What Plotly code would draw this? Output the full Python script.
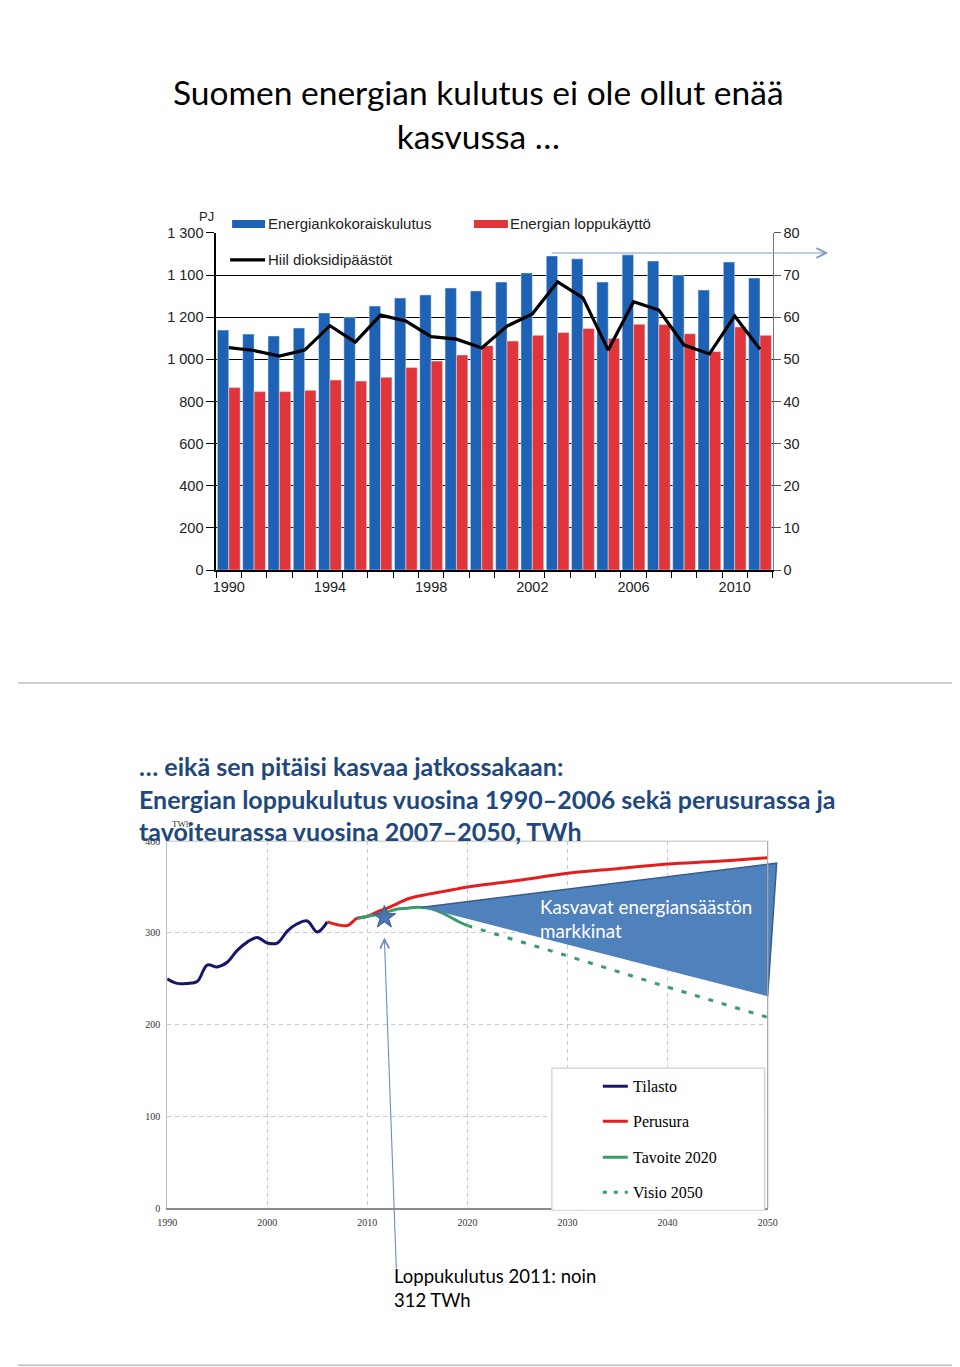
import plotly.graph_objects as go

# ---------------- data: top chart (PJ / Mt CO2) ----------------
years_top = list(range(1990, 2012))
primary_energy = [1139, 1120, 1111, 1149, 1220, 1201, 1253, 1291, 1306, 1339, 1325,
                  1367, 1410, 1491, 1477, 1367, 1496, 1467, 1401, 1329, 1462, 1386]
final_energy = [866, 847, 847, 853, 902, 897, 915, 961, 992, 1021, 1065,
                1087, 1114, 1127, 1147, 1100, 1167, 1165, 1122, 1037, 1154, 1114]
co2 = [52.8, 52.1, 50.8, 52.2, 58.0, 54.1, 60.5, 59.1, 55.4, 54.8, 52.7,
       57.9, 60.8, 68.4, 64.6, 52.2, 63.7, 61.7, 53.4, 51.3, 60.3, 52.4]
left_tickvals = [0, 200, 400, 600, 800, 1000, 1200, 1400, 1600]
left_ticktext = ["0", "200", "400", "600", "800", "1 000", "1 200", "1 100", "1 300"]
right_tickvals = [0, 10, 20, 30, 40, 50, 60, 70, 80]
top_xtickvals = [1990, 1994, 1998, 2002, 2006, 2010]

# ---------------- data: bottom chart (TWh) ----------------
stat_years = list(range(1990, 2007))
stat_values = [250, 245, 245, 247, 265, 263, 268, 281, 290, 295, 289, 289, 302, 310, 313, 301, 312]
perus_years = [2006, 2007, 2008, 2009, 2010, 2011, 2012, 2013, 2014, 2015, 2016, 2017,
               2018, 2019, 2020, 2025, 2030, 2035, 2040, 2045, 2050]
perus_values = [312, 309, 308, 316, 318, 323, 327, 332, 337, 340, 342, 344,
                346, 348, 350, 357, 365, 370, 375, 378, 382]
tavoite_years = [2009, 2010, 2011, 2012, 2013, 2014, 2015, 2016, 2017, 2018, 2019, 2020]
tavoite_values = [316, 318, 320, 323, 326, 327, 328, 327, 324, 319, 313, 308]
visio_years = [2020, 2030, 2040, 2050]
visio_values = [308, 275, 241, 208]
tri_years = [2015.5, 2050.9, 2050.0]
tri_values = [328, 376, 231]
star_year = [2011.7]
star_value = [317]

# ---------------- layout helpers ----------------
# positions are given in picture pixels; the shown page is offset and slightly scaled
W, H = 960, 1367
OX, SX = 17.7, 0.98
OY, SY = 16.1, 0.988
def px(x):
    return ((x - OX) / SX) / W
def py(y):
    return 1 - ((y - OY) / SY) / H

BLUE = "#1D62B5"
RED = "#E0353A"
NAVY = "#16166A"
PRED = "#E41E1E"
GREEN = "#3A9A6A"
SANS = "Liberation Sans"
SERIF = "Liberation Serif"
CAL = "Lato"

fig = go.Figure()

# top chart
fig.add_trace(go.Bar(x=years_top, y=primary_energy, marker_color=BLUE, xaxis="x", yaxis="y",
                     name="Energiankokoraiskulutus"))
fig.add_trace(go.Bar(x=years_top, y=final_energy, marker_color=RED, xaxis="x", yaxis="y",
                     name="Energian loppukäyttö"))
fig.add_trace(go.Scatter(x=years_top, y=co2, mode="lines", line=dict(color="black", width=3.2),
                         xaxis="x", yaxis="y2", name="Hiilidioksidipäästöt"))

# bottom chart
fig.add_trace(go.Scatter(x=tri_years, y=tri_values, mode="lines", fill="toself",
                         fillcolor="#4F81BD", line=dict(color="#385D8A", width=1.5),
                         xaxis="x4", yaxis="y4", name="tri"))
fig.add_trace(go.Scatter(x=stat_years, y=stat_values, mode="lines", line_shape="spline",
                         line=dict(color=NAVY, width=3), xaxis="x3", yaxis="y3", name="Tilasto"))
fig.add_trace(go.Scatter(x=perus_years, y=perus_values, mode="lines", line_shape="spline",
                         line=dict(color=PRED, width=3), xaxis="x3", yaxis="y3", name="Perusura"))
fig.add_trace(go.Scatter(x=tavoite_years, y=tavoite_values, mode="lines", line_shape="spline",
                         line=dict(color=GREEN, width=3), xaxis="x3", yaxis="y3", name="Tavoite 2020"))
fig.add_trace(go.Scatter(x=visio_years, y=visio_values, mode="lines",
                         line=dict(color=GREEN, width=3, dash="5px,9px"), xaxis="x3", yaxis="y3",
                         name="Visio 2050"))
fig.add_trace(go.Scatter(x=star_year, y=star_value, mode="markers",
                         marker=dict(symbol="star", size=17, color="#4A76B5",
                                     line=dict(color="#35598C", width=1)),
                         xaxis="x3", yaxis="y3", name="2011"))

x3_dom = [px(167), px(768)]
x4_dom = [px(167), px(790)]
x4_max = 1990 + (790 - 167) / (768 - 167) * 60

fig.update_layout(
    width=W, height=H, margin=dict(l=0, r=0, t=0, b=0),
    paper_bgcolor="white", plot_bgcolor="rgba(0,0,0,0)",
    showlegend=False, barmode="group", bargap=0.1, bargroupgap=0,
    xaxis=dict(domain=[px(216), px(773)], range=[1989.5, 2011.5], anchor="y",
               tickvals=top_xtickvals, ticks="", showgrid=False, ticklabelstandoff=3,
               showline=True, linecolor="black", linewidth=1.5,
               minor=dict(ticks="outside", ticklen=6, tick0=1989.5, dtick=1,
                          tickcolor="black", tickwidth=1.2, showgrid=False),
               tickfont=dict(family=SANS, size=14.5, color="#222"), zeroline=False),
    yaxis=dict(domain=[py(570), py(233)], range=[0, 1600], anchor="x",
               tickvals=left_tickvals, ticktext=left_ticktext,
               ticks="outside", ticklen=8, tickcolor="black", tickwidth=1.2,
               showline=True, linecolor="black", linewidth=1.5,
               showgrid=True, gridcolor="black", gridwidth=1, zeroline=False,
               tickfont=dict(family=SANS, size=14.5, color="#222")),
    yaxis2=dict(overlaying="y", side="right", range=[0, 80], anchor="x",
                tickvals=right_tickvals, ticks="outside", ticklen=7, tickcolor="#555",
                showline=True, linecolor="#777", linewidth=1, showgrid=False, zeroline=False,
                tickfont=dict(family=SANS, size=14.5, color="#222")),
    xaxis3=dict(domain=x3_dom, range=[1990, 2050], anchor="y3", dtick=10, tick0=1990,
                ticks="", showgrid=True, gridcolor="#C8C8C8", griddash="4px,4px", gridwidth=1,
                ticklabelstandoff=4,
                showline=True, linecolor="#8C8C8C", linewidth=1.5, mirror=False, zeroline=False,
                tickfont=dict(family=SERIF, size=10, color="#333")),
    yaxis3=dict(domain=[py(1208), py(841)], range=[0, 400], anchor="x3", dtick=100,
                ticks="", showgrid=True, gridcolor="#C8C8C8", griddash="4px,4px", gridwidth=1,
                ticklabelstandoff=4,
                showline=True, linecolor="#BDBDBD", linewidth=1, zeroline=False,
                tickfont=dict(family=SERIF, size=10, color="#333")),
    xaxis4=dict(domain=x4_dom, range=[1990, x4_max], anchor="y4", visible=False),
    yaxis4=dict(domain=[py(1208), py(841)], range=[0, 400], anchor="x4", visible=False),
)

shapes = []
# slide borders (the parts that fall inside the figure)
border = dict(color="#BDBDBD", width=1.5)
shapes.append(dict(type="line", xref="paper", yref="paper", x0=0, x1=px(957.5), y0=py(683), y1=py(683), line=border))
shapes.append(dict(type="line", xref="paper", yref="paper", x0=px(957.5), x1=px(957.5), y0=1, y1=py(1365), line=border))
shapes.append(dict(type="line", xref="paper", yref="paper", x0=0, x1=px(957.5), y0=py(1365), y1=py(1365), line=border))
# bottom plot border (top and right)
shapes.append(dict(type="line", xref="paper", yref="paper", x0=px(167), x1=px(768), y0=py(841), y1=py(841),
                   line=dict(color="#BDBDBD", width=1)))
shapes.append(dict(type="line", xref="paper", yref="paper", x0=px(768), x1=px(768), y0=py(841), y1=py(1208),
                   line=dict(color="#A6A6A6", width=1.2)))
# top legend swatches
shapes.append(dict(type="rect", xref="paper", yref="paper", x0=px(232), x1=px(265), y0=py(228), y1=py(220),
                   fillcolor=BLUE, line=dict(width=0)))
shapes.append(dict(type="rect", xref="paper", yref="paper", x0=px(474), x1=px(508), y0=py(228), y1=py(220),
                   fillcolor=RED, line=dict(width=0)))
shapes.append(dict(type="line", xref="paper", yref="paper", x0=px(230), x1=px(265), y0=py(260), y1=py(260),
                   line=dict(color="black", width=3.2)))
# bottom legend box
shapes.append(dict(type="rect", xref="paper", yref="paper", x0=px(552), x1=px(765), y0=py(1210), y1=py(1068),
                   fillcolor="white", line=dict(color="#D0D0D0", width=1.2)))
leg_rows = [(1086, NAVY, "solid"), (1121, PRED, "solid"), (1157, GREEN, "solid"), (1192, GREEN, "4px,7px")]
for yy, col, dash in leg_rows:
    shapes.append(dict(type="line", xref="paper", yref="paper", x0=px(603), x1=px(628), y0=py(yy), y1=py(yy),
                       line=dict(color=col, width=3, dash=dash)))
fig.update_layout(shapes=shapes)

ann = []
ann.append(dict(xref="paper", yref="paper", x=px(479), y=py(114), xanchor="center", yanchor="middle",
                text="Suomen energian kulutus ei ole ollut enää<br>kasvussa …", showarrow=False,
                font=dict(family=CAL, size=33.5, color="black")))
ann.append(dict(xref="paper", yref="paper", x=px(216), y=py(217), xanchor="right", yanchor="middle",
                text="PJ", showarrow=False, font=dict(family=SANS, size=13, color="#222")))
ann.append(dict(xref="paper", yref="paper", x=px(266), y=py(224), xanchor="left", yanchor="middle",
                text="Energiankokoraiskulutus", showarrow=False, font=dict(family=SANS, size=15, color="#222")))
ann.append(dict(xref="paper", yref="paper", x=px(508), y=py(224), xanchor="left", yanchor="middle",
                text="Energian loppukäyttö", showarrow=False, font=dict(family=SANS, size=15, color="#222")))
ann.append(dict(xref="paper", yref="paper", x=px(266), y=py(260), xanchor="left", yanchor="middle",
                text="Hiil dioksidipäästöt", showarrow=False, font=dict(family=SANS, size=15, color="#222")))
# arrow to right axis
ann.append(dict(xref="x", yref="y", x=2013.7, y=1505, axref="x", ayref="y", ax=2002.7, ay=1505,
                text="", showarrow=True, arrowhead=5, arrowsize=1.6, arrowwidth=1.2, arrowcolor="#7F9CC9"))
# bottom title
ann.append(dict(xref="paper", yref="paper", x=px(137), y=py(798), xanchor="left", yanchor="middle",
                align="left",
                text="<b>… eikä sen pitäisi kasvaa jatkossakaan:<br>Energian loppukulutus vuosina 1990–2006 sekä perusurassa ja<br>tavoiteurassa vuosina 2007–2050, TWh</b>",
                showarrow=False, font=dict(family=CAL, size=25, color="#1F497D")))
ann.append(dict(xref="paper", yref="paper", x=px(181), y=py(824), xanchor="center", yanchor="middle",
                text="TWh", showarrow=False, font=dict(family=SERIF, size=9, color="#333")))
ann.append(dict(xref="paper", yref="paper", x=px(538), y=py(918), xanchor="left", yanchor="middle",
                align="left", text="Kasvavat energiansäästön<br>markkinat", showarrow=False,
                font=dict(family=CAL, size=18.8, color="white")))
for yy, label in [(1086, "Tilasto"), (1121, "Perusura"), (1157, "Tavoite 2020"), (1192, "Visio 2050")]:
    ann.append(dict(xref="paper", yref="paper", x=px(631), y=py(yy), xanchor="left", yanchor="middle",
                    text=label, showarrow=False, font=dict(family=SERIF, size=16, color="black")))
# arrow from note to star
ann.append(dict(xref="x3", yref="y3", x=2011.7, y=295, axref="x3", ayref="y3", ax=2012.9, ay=-67,
                text="", showarrow=True, arrowhead=5, arrowsize=1.6, arrowwidth=1.1, arrowcolor="#6A8DC0"))
ann.append(dict(xref="paper", yref="paper", x=px(392), y=py(1288), xanchor="left", yanchor="middle",
                align="left", text="Loppukulutus 2011: noin<br>312 TWh", showarrow=False,
                font=dict(family=CAL, size=18.5, color="black")))
fig.update_layout(annotations=ann)

fig.write_html("out.html")
